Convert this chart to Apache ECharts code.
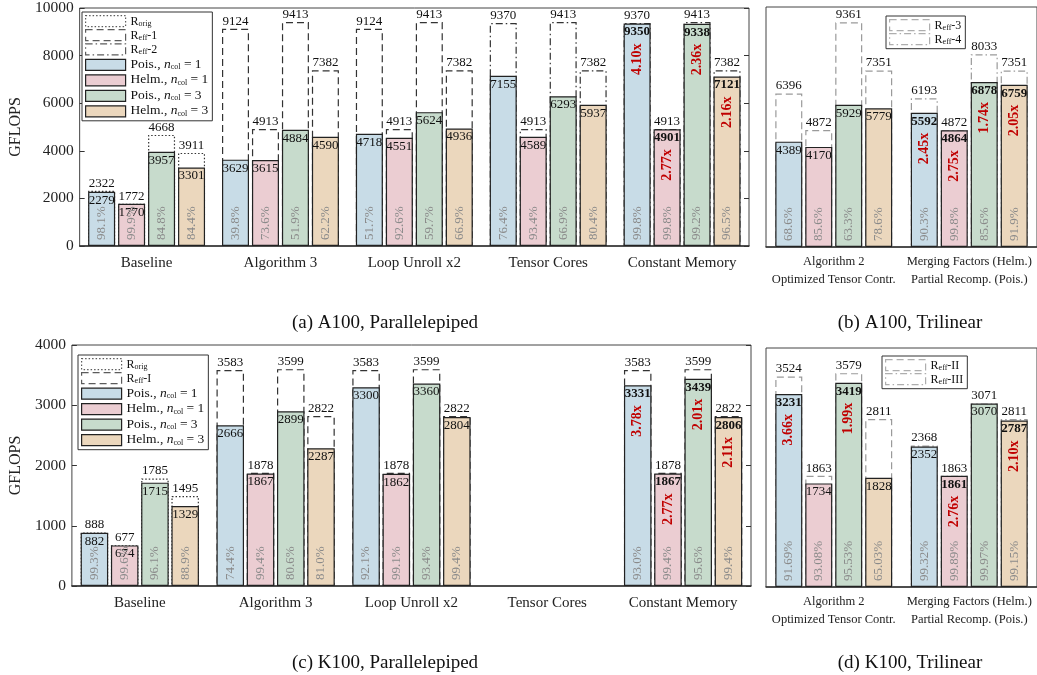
<!DOCTYPE html>
<html>
<head>
<meta charset="utf-8">
<script src="https://cdn.jsdelivr.net/npm/echarts@6/dist/echarts.min.js"></script>
<style>
  html, body { margin: 0; background: #fff; }
  #chart { width: 1037px; height: 675px; }
</style>
</head>
<body>
<div id="chart"></div>
<script>
'use strict';

const seriesNames = ['Pois., n_col = 1', 'Helm., n_col = 1', 'Pois., n_col = 3', 'Helm., n_col = 3'];

// (a) A100, Parallelepiped
const catsA = ['Baseline', 'Algorithm 3', 'Loop Unroll x2', 'Tensor Cores', 'Constant Memory'];
const roofA = ['R_orig', 'R_eff-1', 'R_eff-1', 'R_eff-2', 'R_eff-2'];
const gflopsA = [
  [2279, 3629, 4718, 7155, 9350],
  [1770, 3615, 4551, 4589, 4901],
  [3957, 4884, 5624, 6293, 9338],
  [3301, 4590, 4936, 5937, 7121]
];
const ceilA = [
  [2322, 9124, 9124, 9370, 9370],
  [1772, 4913, 4913, 4913, 4913],
  [4668, 9413, 9413, 9413, 9413],
  [3911, 7382, 7382, 7382, 7382]
];
const pctA = [
  [98.1, 39.8, 51.7, 76.4, 99.8],
  [99.9, 73.6, 92.6, 93.4, 99.8],
  [84.8, 51.9, 59.7, 66.9, 99.2],
  [84.4, 62.2, 66.9, 80.4, 96.5]
];
const speedA = [
  [null, null, null, null, 4.10],
  [null, null, null, null, 2.77],
  [null, null, null, null, 2.36],
  [null, null, null, null, 2.16]
];
const boldA = [
  [0, 0, 0, 0, 1],
  [0, 0, 0, 0, 1],
  [0, 0, 0, 0, 1],
  [0, 0, 0, 0, 1]
];

// (b) A100, Trilinear
const catsB = ['Algorithm 2\nOptimized Tensor Contr.', 'Merging Factors (Helm.)\nPartial Recomp. (Pois.)'];
const roofB = ['R_eff-3', 'R_eff-4'];
const gflopsB = [[4389, 5592], [4170, 4864], [5929, 6878], [5779, 6759]];
const ceilB = [[6396, 6193], [4872, 4872], [9361, 8033], [7351, 7351]];
const pctB = [[68.6, 90.3], [85.6, 99.8], [63.3, 85.6], [78.6, 91.9]];
const speedB = [[null, 2.45], [null, 2.75], [null, 1.74], [null, 2.05]];
const boldB = [[0, 1], [0, 1], [0, 1], [0, 1]];

// (c) K100, Parallelepiped
const catsC = ['Baseline', 'Algorithm 3', 'Loop Unroll x2', 'Tensor Cores', 'Constant Memory'];
const roofC = ['R_orig', 'R_eff-I', 'R_eff-I', null, 'R_eff-I'];
const gflopsC = [
  [882, 2666, 3300, null, 3331],
  [674, 1867, 1862, null, 1867],
  [1715, 2899, 3360, null, 3439],
  [1329, 2287, 2804, null, 2806]
];
const ceilC = [
  [888, 3583, 3583, null, 3583],
  [677, 1878, 1878, null, 1878],
  [1785, 3599, 3599, null, 3599],
  [1495, 2822, 2822, null, 2822]
];
const pctC = [
  [99.3, 74.4, 92.1, null, 93.0],
  [99.6, 99.4, 99.1, null, 99.4],
  [96.1, 80.6, 93.4, null, 95.6],
  [88.9, 81.0, 99.4, null, 99.4]
];
const speedC = [
  [null, null, null, null, 3.78],
  [null, null, null, null, 2.77],
  [null, null, null, null, 2.01],
  [null, null, null, null, 2.11]
];
const boldC = [
  [0, 0, 0, 0, 1],
  [0, 0, 0, 0, 1],
  [0, 0, 0, 0, 1],
  [0, 0, 0, 0, 1]
];

// (d) K100, Trilinear
const catsD = catsB;
const roofD = ['R_eff-II', 'R_eff-III'];
const gflopsD = [[3231, 2352], [1734, 1861], [3419, 3070], [1828, 2787]];
const ceilD = [[3524, 2368], [1863, 1863], [3579, 3071], [2811, 2811]];
const pctD = [[91.69, 99.32], [93.08, 99.89], [95.53, 99.97], [65.03, 99.15]];
const speedD = [[3.66, null], [null, 2.76], [1.99, null], [null, 2.10]];
const boldD = [[1, 0], [0, 1], [1, 0], [0, 1]];

const fontFamily = '"Liberation Serif", "DejaVu Serif", serif';
const barColors = ['#c8dce7', '#ebcdd2', '#c7dbcc', '#ebd7bd'];
const roofStyles = {
  'R_orig': { type: [1.5, 2], color: '#333' },
  'R_eff-1': { type: [7, 4], color: '#333' },
  'R_eff-2': { type: [7, 3, 1.5, 3], color: '#333' },
  'R_eff-I': { type: [7, 4], color: '#333' },
  'R_eff-3': { type: [7, 4], color: '#9a9a9a' },
  'R_eff-4': { type: [7, 3, 1.5, 3], color: '#9a9a9a' },
  'R_eff-II': { type: [7, 4], color: '#9a9a9a' },
  'R_eff-III': { type: [7, 3, 1.5, 3], color: '#9a9a9a' }
};

const panels = [
  {
    cats: catsA, roof: roofA, gflops: gflopsA, ceil: ceilA, pct: pctA, pctDigits: 1, speed: speedA, bold: boldA,
    grid: { left: 76, top: 8, width: 673, height: 238 }, max: 10000, interval: 2000, yLabels: true, nameGap: 52,
    barWidth: 27, barGap: '11%', catFont: 15, catMargin: 9, catLineHeight: 16,
    legend: { left: 82, top: 12, items: ['R_orig', 'R_eff-1', 'R_eff-2'].concat(seriesNames) },
    caption: { text: '(a) A100, Parallelepiped', x: 380, y: 309 }
  },
  {
    cats: catsB, roof: roofB, gflops: gflopsB, ceil: ceilB, pct: pctB, pctDigits: 1, speed: speedB, bold: boldB,
    grid: { left: 766, top: 7, width: 276, height: 240 }, max: 10000, interval: 2000, yLabels: false,
    barWidth: 27, barGap: '11%', catFont: 12.5, catMargin: 6, catLineHeight: 18,
    legend: { left: 886, top: 16, items: ['R_eff-3', 'R_eff-4'] },
    caption: { text: '(b) A100, Trilinear', x: 905, y: 309 }
  },
  {
    cats: catsC, roof: roofC, gflops: gflopsC, ceil: ceilC, pct: pctC, pctDigits: 1, speed: speedC, bold: boldC,
    grid: { left: 69, top: 345, width: 682, height: 241 }, max: 4000, interval: 1000, yLabels: true, nameGap: 46,
    barWidth: 27.5, barGap: '10%', catFont: 15, catMargin: 9, catLineHeight: 16,
    legend: { left: 78, top: 355, items: ['R_orig', 'R_eff-I'].concat(seriesNames) },
    caption: { text: '(c) K100, Parallelepiped', x: 380, y: 649 }
  },
  {
    cats: catsD, roof: roofD, gflops: gflopsD, ceil: ceilD, pct: pctD, pctDigits: 2, speed: speedD, bold: boldD,
    grid: { left: 766, top: 348, width: 276, height: 239 }, max: 4000, interval: 1000, yLabels: false,
    barWidth: 27, barGap: '11%', catFont: 12.5, catMargin: 6, catLineHeight: 18,
    legend: { left: 882, top: 356, items: ['R_eff-II', 'R_eff-III'] },
    caption: { text: '(d) K100, Trilinear', x: 905, y: 649 }
  }
];

function richName(name) {
  if (name.indexOf('R_') === 0) {
    const rest = name.slice(2);
    const k = rest.indexOf('-');
    const sub = k < 0 ? rest : rest.slice(0, k);
    const tail = k < 0 ? '' : rest.slice(k);
    return '{r|R}{s|' + sub + '}' + (tail ? '{r|' + tail + '}' : '');
  }
  const m = name.match(/^(.*), n_col = (\d)$/);
  return '{t|' + m[1] + ', }{i|n}{s|col}{t| = ' + m[2] + '}';
}

const legendRich = {
  t: { fontFamily, fontSize: 13.5, lineHeight: 13, color: '#111', verticalAlign: 'bottom' },
  r: { fontFamily, fontSize: 12, lineHeight: 13, color: '#111', verticalAlign: 'bottom' },
  i: { fontFamily, fontSize: 13.5, lineHeight: 13, color: '#111', fontStyle: 'italic', verticalAlign: 'bottom' },
  s: { fontFamily, fontSize: 8, lineHeight: 7, color: '#111', verticalAlign: 'bottom' }
};

function legendStyle(name) {
  const roof = roofStyles[name];
  if (roof) {
    return { color: '#fff', borderColor: roof.color, borderType: roof.type, borderWidth: 1.2 };
  }
  return { color: barColors[seriesNames.indexOf(name)], borderColor: '#222', borderWidth: 1.2 };
}

const grid = [], xAxis = [], yAxis = [], series = [], legend = [], title = [];

panels.forEach((p, gi) => {
  grid.push(Object.assign({ show: true, borderColor: '#444', borderWidth: 1 }, p.grid));
  const x0 = xAxis.length;
  const y0 = yAxis.length;
  const tick = { inside: true, alignWithLabel: true, length: 5, lineStyle: { color: '#333' } };

  xAxis.push({
    type: 'category', gridIndex: gi, data: p.cats, position: 'bottom',
    axisLine: { lineStyle: { color: '#333', width: 1.5 } },
    axisTick: tick,
    axisLabel: { fontFamily, fontSize: p.catFont, color: '#222', margin: p.catMargin, lineHeight: p.catLineHeight, interval: 0 }
  });
  xAxis.push({
    type: 'category', gridIndex: gi, data: p.cats, position: 'top',
    axisLine: { show: false }, axisTick: tick, axisLabel: { show: false }
  });
  xAxis.push({ type: 'category', gridIndex: gi, data: p.cats, show: false });
  xAxis.push({ type: 'category', gridIndex: gi, data: p.cats, show: false });

  const valAxis = { type: 'value', gridIndex: gi, min: 0, max: p.max, interval: p.interval, splitLine: { show: false } };
  yAxis.push(Object.assign({}, valAxis, {
    position: 'left',
    axisLine: { show: false },
    axisTick: { show: p.yLabels, inside: true, length: 5, lineStyle: { color: '#333' } },
    axisLabel: { show: p.yLabels, fontFamily, fontSize: 15.5, color: '#222', margin: 6, formatter: v => String(v) },
    name: p.yLabels ? 'GFLOPS' : '', nameLocation: 'middle', nameGap: p.nameGap || 0,
    nameTextStyle: { fontFamily, fontSize: 16, color: '#222' }
  }));
  yAxis.push(Object.assign({}, valAxis, {
    position: 'right',
    axisLine: { show: false },
    axisTick: { show: p.yLabels, inside: true, length: 5, lineStyle: { color: '#333' } },
    axisLabel: { show: false }
  }));

  const common = { type: 'bar', yAxisIndex: y0, barWidth: p.barWidth, barGap: p.barGap, silent: true, animation: false };

  for (let s = 0; s < 4; s++) {
    // roofline ceiling box
    series.push(Object.assign({}, common, {
      name: 'roof' + gi + s, xAxisIndex: x0, z: 2,
      data: p.ceil[s].map((v, i) => v == null ? '-' : {
        value: v,
        itemStyle: { borderType: roofStyles[p.roof[i]].type, borderColor: roofStyles[p.roof[i]].color }
      }),
      itemStyle: { color: 'rgba(255,255,255,0)', borderWidth: 1.2 },
      label: { show: true, position: 'top', distance: 1, fontFamily, fontSize: 13, color: '#111' }
    }));
    // measured GFLOPS
    series.push(Object.assign({}, common, {
      name: seriesNames[s], xAxisIndex: x0 + 1, z: 3,
      data: p.gflops[s].map((v, i) => v == null ? '-' : {
        value: v, label: { fontWeight: p.bold[s][i] ? 'bold' : 'normal' }
      }),
      itemStyle: { color: barColors[s], borderColor: '#222', borderWidth: 1.2 },
      label: { show: true, position: 'insideTop', distance: 2, fontFamily, fontSize: 13, color: '#111' }
    }));
    // efficiency percentage
    series.push(Object.assign({}, common, {
      name: 'pct' + gi + s, xAxisIndex: x0 + 2, z: 4,
      data: p.gflops[s].map(v => v == null ? '-' : v),
      itemStyle: { color: 'rgba(0,0,0,0)' },
      label: {
        show: true, position: 'insideBottom', rotate: 90, align: 'left', verticalAlign: 'middle', distance: 6,
        fontFamily, fontSize: 13, color: '#8a8a8a',
        formatter: prm => p.pct[s][prm.dataIndex] == null ? '' : p.pct[s][prm.dataIndex].toFixed(p.pctDigits) + '%'
      }
    }));
    // speedup
    series.push(Object.assign({}, common, {
      name: 'spd' + gi + s, xAxisIndex: x0 + 3, z: 4,
      data: p.gflops[s].map(v => v == null ? '-' : v),
      itemStyle: { color: 'rgba(0,0,0,0)' },
      label: {
        show: true, position: 'insideTop', rotate: 90, align: 'right', verticalAlign: 'middle', distance: 20,
        fontFamily, fontSize: 14, fontWeight: 'bold', color: '#c00000',
        formatter: prm => p.speed[s][prm.dataIndex] == null ? '' : p.speed[s][prm.dataIndex].toFixed(2) + 'x'
      }
    }));
  }

  // legend-only entries for the roofline styles
  p.legend.items.filter(n => roofStyles[n]).forEach(n => {
    series.push({ type: 'scatter', name: n, xAxisIndex: x0 + 2, yAxisIndex: y0, data: [], itemStyle: legendStyle(n) });
  });

  legend.push({
    left: p.legend.left, top: p.legend.top, orient: 'vertical', selectedMode: false, icon: 'rect',
    itemWidth: 40, itemHeight: 11, itemGap: 1.5, padding: [3, 4, 3, 3],
    borderColor: '#333', borderWidth: 1, backgroundColor: '#fff', z: 10,
    formatter: richName, textStyle: { rich: legendRich },
    data: p.legend.items.map(name => ({ name, itemStyle: legendStyle(name) }))
  });

  title.push({
    text: p.caption.text, left: p.caption.x, top: p.caption.y, textAlign: 'center',
    textStyle: { fontFamily, fontSize: 19, fontWeight: 'normal', color: '#111' }
  });
});

const chart = echarts.init(document.getElementById('chart'));
chart.setOption({
  animation: false,
  backgroundColor: '#fff',
  title, grid, xAxis, yAxis, legend, series
});
</script>
</body>
</html>
